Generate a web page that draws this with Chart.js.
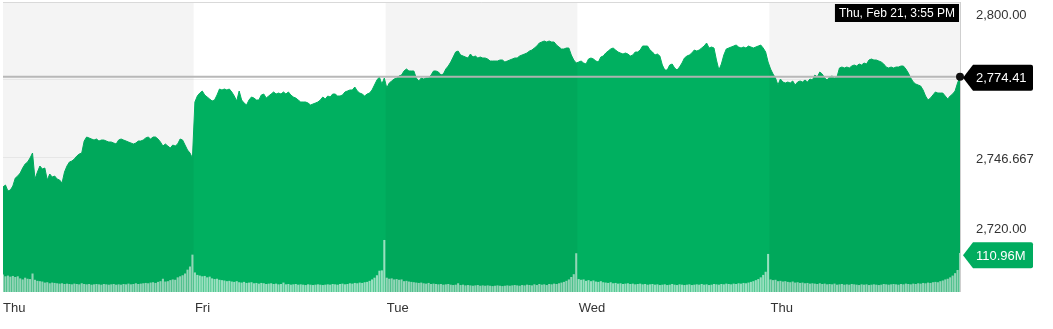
<!DOCTYPE html>
<html>
<head>
<meta charset="utf-8">
<script src="https://cdn.jsdelivr.net/npm/chart.js@4.4.1/dist/chart.umd.min.js"></script>
<style>
  html, body { margin: 0; padding: 0; background: #fff; }
</style>
</head>
<body>
<canvas id="chart" width="1053" height="329"></canvas>
<script>
// Five sessions of 5-minute bars, 78 per session
const dayLabels = ['Thu', 'Fri', 'Tue', 'Wed', 'Thu'];
const dayStarts = [0, 78, 156, 234, 312];

const pricesDay1 = [
  2736.74, 2737.43, 2735.38, 2735.72, 2737.09, 2739.82, 2740.51, 2741.53, 2743.24, 2744.61,
  2745.29, 2746.66, 2748.37, 2739.48, 2741.87, 2743.92, 2742.90, 2743.24, 2739.14, 2741.19,
  2740.16, 2740.51, 2739.48, 2739.14, 2738.11, 2741.87, 2743.92, 2745.29, 2745.63, 2746.32,
  2747.34, 2748.03, 2748.37, 2752.47, 2753.84, 2753.50, 2753.16, 2752.81, 2753.16, 2752.47,
  2752.81, 2752.81, 2752.47, 2752.13, 2752.13, 2751.79, 2751.45, 2752.81, 2753.16, 2752.81,
  2752.47, 2752.13, 2751.79, 2751.45, 2751.79, 2752.47, 2752.47, 2752.81, 2753.50, 2753.84,
  2753.16, 2753.84, 2753.84, 2753.16, 2752.13, 2750.76, 2751.45, 2750.76, 2750.08, 2751.10,
  2750.76, 2751.45, 2753.16, 2752.81, 2751.10, 2749.39, 2748.37, 2746.66
];
const pricesDay2 = [
  2765.81, 2767.86, 2768.88, 2769.57, 2768.20, 2767.52, 2766.83, 2766.15, 2766.49, 2768.20,
  2770.25, 2769.91, 2770.25, 2769.91, 2770.25, 2769.23, 2767.86, 2766.15, 2769.57, 2766.49,
  2765.46, 2764.78, 2766.49, 2767.52, 2767.17, 2766.49, 2766.49, 2768.20, 2768.54, 2767.17,
  2767.86, 2768.54, 2769.23, 2768.54, 2768.88, 2768.54, 2769.23, 2768.54, 2769.23, 2768.20,
  2767.52, 2767.17, 2766.49, 2765.81, 2765.81, 2765.81, 2765.46, 2764.78, 2765.12, 2765.46,
  2765.81, 2766.49, 2767.52, 2766.83, 2767.86, 2767.52, 2768.54, 2768.54, 2767.86, 2767.86,
  2768.20, 2769.23, 2769.57, 2769.91, 2769.91, 2770.93, 2769.57, 2768.88, 2768.54, 2767.86,
  2768.54, 2768.88, 2769.91, 2771.62, 2773.33, 2774.35, 2771.96, 2774.01
];
const pricesDay3 = [
  2770.59, 2772.30, 2772.99, 2773.67, 2774.01, 2774.70, 2775.04, 2776.41, 2777.09, 2776.41,
  2776.41, 2776.41, 2774.01, 2772.99, 2774.01, 2773.67, 2774.01, 2774.01, 2775.04, 2776.41,
  2776.41, 2776.06, 2775.04, 2775.38, 2777.09, 2778.11, 2779.48, 2781.19, 2782.90, 2783.24,
  2781.88, 2781.53, 2781.19, 2780.85, 2782.22, 2781.19, 2781.53, 2780.85, 2781.19, 2780.85,
  2780.85, 2780.51, 2779.82, 2779.82, 2779.82, 2779.82, 2780.17, 2780.17, 2779.48, 2779.82,
  2780.17, 2780.51, 2780.85, 2780.85, 2781.53, 2781.88, 2782.22, 2782.56, 2783.24, 2783.58,
  2784.27, 2784.95, 2785.98, 2786.32, 2786.66, 2786.32, 2786.66, 2786.32, 2786.32, 2785.29,
  2784.61, 2783.93, 2783.93, 2784.27, 2784.27, 2781.88, 2780.17, 2779.14
];
const pricesDay4 = [
  2779.48, 2779.82, 2779.14, 2778.80, 2780.51, 2780.85, 2780.51, 2779.82, 2779.48, 2781.19,
  2781.53, 2782.56, 2783.24, 2783.93, 2784.27, 2783.58, 2782.90, 2782.56, 2782.22, 2782.56,
  2782.22, 2781.53, 2781.88, 2782.90, 2782.90, 2783.58, 2784.95, 2784.95, 2784.95, 2783.58,
  2782.90, 2781.88, 2782.22, 2781.53, 2778.46, 2776.75, 2776.75, 2778.46, 2778.80, 2777.43,
  2776.75, 2777.77, 2779.14, 2780.85, 2781.53, 2781.88, 2782.56, 2783.58, 2783.24, 2783.58,
  2784.27, 2784.95, 2785.98, 2784.27, 2784.61, 2784.27, 2780.17, 2776.75, 2778.80, 2781.88,
  2783.93, 2784.27, 2784.61, 2784.95, 2785.29, 2784.61, 2784.27, 2784.61, 2784.27, 2784.95,
  2784.61, 2784.27, 2784.61, 2784.95, 2785.29, 2784.27, 2782.90, 2779.48
];
const pricesDay5 = [
  2777.09, 2775.38, 2774.01, 2771.62, 2773.67, 2772.64, 2772.30, 2772.64, 2772.30, 2772.99,
  2771.62, 2772.64, 2772.99, 2772.64, 2773.33, 2772.64, 2773.67, 2773.33, 2775.04, 2774.35,
  2776.06, 2775.38, 2774.01, 2773.33, 2774.35, 2774.70, 2774.01, 2774.35, 2777.43, 2777.77,
  2777.43, 2777.77, 2777.43, 2778.11, 2778.46, 2778.11, 2778.80, 2778.46, 2779.14, 2778.80,
  2780.17, 2780.51, 2780.17, 2780.17, 2779.82, 2779.48, 2778.80, 2777.77, 2777.43, 2777.77,
  2777.43, 2777.77, 2777.77, 2778.11, 2778.11, 2777.09, 2775.72, 2774.01, 2772.64, 2771.96,
  2771.62, 2771.28, 2769.91, 2767.86, 2766.49, 2767.17, 2768.20, 2769.23, 2768.88, 2768.88,
  2768.88, 2767.86, 2766.83, 2767.86, 2768.54, 2769.57, 2772.30, 2774.41
];

// Volume per bar, millions of shares
const volumesDay1 = [
  49, 44, 46, 43, 45, 42, 44, 38, 35, 40,
  37, 36, 52, 34, 31, 30, 29, 26, 27, 24,
  26, 25, 24, 23, 24, 22, 23, 22, 21, 23,
  22, 21, 24, 22, 21, 22, 20, 21, 22, 21,
  20, 22, 21, 20, 21, 22, 20, 21, 20, 22,
  21, 23, 21, 22, 24, 22, 23, 24, 25, 24,
  26, 27, 25, 28, 30, 37, 29, 30, 33, 35,
  34, 41, 44, 47, 52, 63, 72, 106
];
const volumesDay2 = [
  55, 48, 46, 44, 45, 41, 43, 38, 36, 37,
  34, 33, 32, 30, 31, 29, 28, 30, 27, 26,
  28, 25, 26, 27, 24, 25, 23, 25, 24, 22,
  23, 24, 22, 23, 21, 22, 26, 21, 22, 20,
  21, 22, 20, 21, 20, 19, 21, 20, 19, 20,
  21, 20, 19, 20, 21, 20, 22, 21, 20, 22,
  23, 21, 22, 24, 23, 25, 24, 26, 25, 27,
  28, 31, 35, 40, 47, 60, 61, 148
];
const volumesDay3 = [
  40, 37, 38, 35, 36, 34, 35, 30, 31, 29,
  28, 27, 26, 25, 26, 24, 23, 25, 22, 23,
  22, 21, 22, 20, 21, 22, 20, 19, 20, 24,
  19, 20, 18, 19, 18, 17, 18, 19, 17, 18,
  17, 18, 17, 16, 17, 18, 17, 16, 17, 18,
  17, 18, 19, 18, 17, 19, 18, 20, 19, 18,
  21, 19, 22, 20, 21, 19, 22, 21, 23, 22,
  24, 26, 28, 31, 35, 42, 50, 110
];
const volumesDay4 = [
  36, 34, 35, 31, 33, 30, 32, 29, 28, 30,
  27, 26, 25, 27, 24, 25, 23, 24, 22, 23,
  24, 22, 23, 21, 22, 23, 21, 22, 20, 21,
  22, 20, 21, 19, 20, 21, 19, 20, 22, 20,
  19, 21, 20, 19, 20, 21, 19, 20, 21, 20,
  22, 20, 21, 19, 20, 22, 21, 20, 22, 21,
  23, 22, 21, 23, 22, 24, 23, 25, 24, 26,
  28, 30, 33, 36, 41, 48, 57, 108
];
const volumesDay5 = [
  35, 33, 34, 30, 31, 29, 30, 28, 27, 29,
  26, 27, 25, 26, 24, 25, 23, 24, 23, 22,
  24, 22, 23, 21, 22, 21, 23, 20, 21, 22,
  20, 21, 20, 22, 21, 20, 19, 21, 20, 21,
  19, 20, 21, 20, 19, 20, 22, 21, 20, 21,
  22, 21, 20, 22, 21, 23, 22, 21, 23, 22,
  24, 23, 25, 24, 26, 25, 27, 28, 27, 30,
  32, 35, 37, 41, 46, 53, 62, 110.96
];

const priceTicks = [2720, 2746.6667, 2773.3333, 2800];
const priceMin = 2700.85;
const priceMax = 2800;
const volumeMax = 830;
const lastTimeLabel = 'Thu, Feb 21, 3:55 PM';

const FONT = '"Liberation Sans", Arial, Helvetica, sans-serif';
const GREEN = 'rgb(0, 176, 96)';

const prices = [].concat(pricesDay1, pricesDay2, pricesDay3, pricesDay4, pricesDay5);
const volumes = [].concat(volumesDay1, volumesDay2, volumesDay3, volumesDay4, volumesDay5);
const lastIndex = prices.length - 1;

function fmtPrice(v) {
    return v.toLocaleString('en-US', { minimumFractionDigits: 2, maximumFractionDigits: 3 });
}

// arrow-shaped label box pointing left at (tipX, midY)
function drawTag(ctx, tipX, midY, bodyW, h, fill, text) {
    const bx = tipX + 10, top = midY - h / 2, r = 2;
    ctx.beginPath();
    ctx.moveTo(tipX, midY);
    ctx.lineTo(bx, top);
    ctx.lineTo(bx + bodyW - r, top);
    ctx.quadraticCurveTo(bx + bodyW, top, bx + bodyW, top + r);
    ctx.lineTo(bx + bodyW, top + h - r);
    ctx.quadraticCurveTo(bx + bodyW, top + h, bx + bodyW - r, top + h);
    ctx.lineTo(bx, top + h);
    ctx.closePath();
    ctx.fillStyle = fill;
    ctx.fill();
    ctx.fillStyle = '#fff';
    ctx.textAlign = 'left';
    ctx.textBaseline = 'middle';
    ctx.fillText(text, bx + 3, midY + 1);
}

// shade every other session
const sessionShade = {
    id: 'sessionShade',
    afterDatasetsDraw(chart) {
        const { ctx, chartArea: a, scales: { x } } = chart;
        ctx.save();
        ctx.fillStyle = 'rgba(0, 0, 0, 0.042)';
        dayStarts.forEach((start, k) => {
            if (k % 2 !== 0) return;
            const x0 = k === 0 ? a.left : x.getPixelForValue(start - 0.5);
            const x1 = k + 1 < dayStarts.length ? x.getPixelForValue(dayStarts[k + 1] - 0.5) : a.right;
            ctx.fillRect(x0, a.top, x1 - x0, a.bottom - a.top);
        });
        ctx.restore();
    }
};

// frame, last-value line, axis labels and tags
const markers = {
    id: 'markers',
    afterDraw(chart) {
        const { ctx, chartArea: a, scales: { y, yv } } = chart;
        const priceY = y.getPixelForValue(prices[lastIndex]);
        const volY = yv.getPixelForValue(volumes[lastIndex]);

        ctx.save();
        ctx.lineWidth = 1;
        ctx.strokeStyle = '#d9d9d9';
        ctx.beginPath();
        ctx.moveTo(a.left, a.top + 0.5);
        ctx.lineTo(a.right, a.top + 0.5);
        ctx.stroke();
        ctx.strokeStyle = '#cfcfcf';
        ctx.beginPath();
        ctx.moveTo(a.right + 0.5, a.top);
        ctx.lineTo(a.right + 0.5, a.bottom);
        ctx.stroke();

        ctx.strokeStyle = 'rgba(180, 180, 180, 0.95)';
        ctx.lineWidth = 2;
        ctx.beginPath();
        ctx.moveTo(a.left, priceY);
        ctx.lineTo(a.right, priceY);
        ctx.stroke();

        const pt = chart.getDatasetMeta(0).data[lastIndex];
        ctx.fillStyle = '#111';
        ctx.beginPath();
        ctx.arc(pt.x, pt.y, 4, 0, Math.PI * 2);
        ctx.fill();

        // right axis labels, kept clear of the two tags
        ctx.font = '13px ' + FONT;
        ctx.fillStyle = '#333';
        ctx.textAlign = 'left';
        ctx.textBaseline = 'middle';
        priceTicks.forEach(v => {
            let ty = y.getPixelForValue(v);
            if (Math.abs(ty - priceY) < 14) return;
            ty = Math.max(ty, a.top + 12);
            ty = Math.min(ty, volY - 25);
            ctx.fillText(fmtPrice(v), a.right + 16, ty + 1);
        });

        drawTag(ctx, a.right + 3, priceY + 1, 60, 26, '#000', fmtPrice(prices[lastIndex]));
        drawTag(ctx, a.right + 3, volY + 2, 60, 26, 'rgb(0, 172, 95)', volumes[lastIndex].toFixed(2) + 'M');

        // time box at the top of the crosshair
        ctx.font = '12px ' + FONT;
        const tw = ctx.measureText(lastTimeLabel).width + 8;
        ctx.fillStyle = '#000';
        ctx.fillRect(a.right - 1 - tw, 4, tw, 18);
        ctx.fillStyle = '#fff';
        ctx.textAlign = 'center';
        ctx.fillText(lastTimeLabel, a.right - 1 - tw / 2, 14);
        ctx.restore();
    }
};

new Chart(document.getElementById('chart'), {
    type: 'line',
    data: {
        datasets: [{
            type: 'line',
            data: prices.map((p, i) => ({ x: i, y: p })),
            yAxisID: 'y',
            borderColor: GREEN,
            backgroundColor: GREEN,
            borderWidth: 1,
            fill: 'start',
            pointRadius: 0,
            tension: 0,
            order: 1
        }, {
            type: 'bar',
            data: volumes.map((v, i) => ({ x: i, y: v })),
            yAxisID: 'yv',
            backgroundColor: 'rgba(255, 255, 255, 0.6)',
            barThickness: 1.4,
            grouped: false,
            order: 0
        }]
    },
    options: {
        responsive: false,
        animation: false,
        events: [],
        layout: { padding: { left: 3, top: 2, right: 0, bottom: 0 } },
        plugins: { legend: { display: false }, tooltip: { enabled: false } },
        scales: {
            x: {
                type: 'linear',
                min: 0,
                max: lastIndex,
                offset: false,
                grid: { display: false, drawTicks: false },
                border: { display: false },
                afterBuildTicks: s => { s.ticks = dayStarts.map(v => ({ value: v })); },
                afterFit: s => {
                    s.height = 37;
                    s.paddingLeft = 0;
                    s.paddingRight = 0;
                },
                ticks: {
                    align: 'start',
                    autoSkip: false,
                    maxRotation: 0,
                    padding: 9,
                    color: '#333',
                    font: { family: FONT, size: 13 },
                    callback: (v, i) => dayLabels[i]
                }
            },
            y: {
                position: 'right',
                min: priceMin,
                max: priceMax,
                z: 1,
                grid: { color: 'rgba(0, 0, 0, 0.06)', drawTicks: false },
                border: { display: false },
                afterBuildTicks: s => { s.ticks = priceTicks.map(v => ({ value: v })); },
                afterFit: s => { s.width = 93; },
                ticks: { display: false }
            },
            yv: {
                display: false,
                position: 'left',
                min: 0,
                max: volumeMax
            }
        }
    },
    plugins: [sessionShade, markers]
});
</script>
</body>
</html>
